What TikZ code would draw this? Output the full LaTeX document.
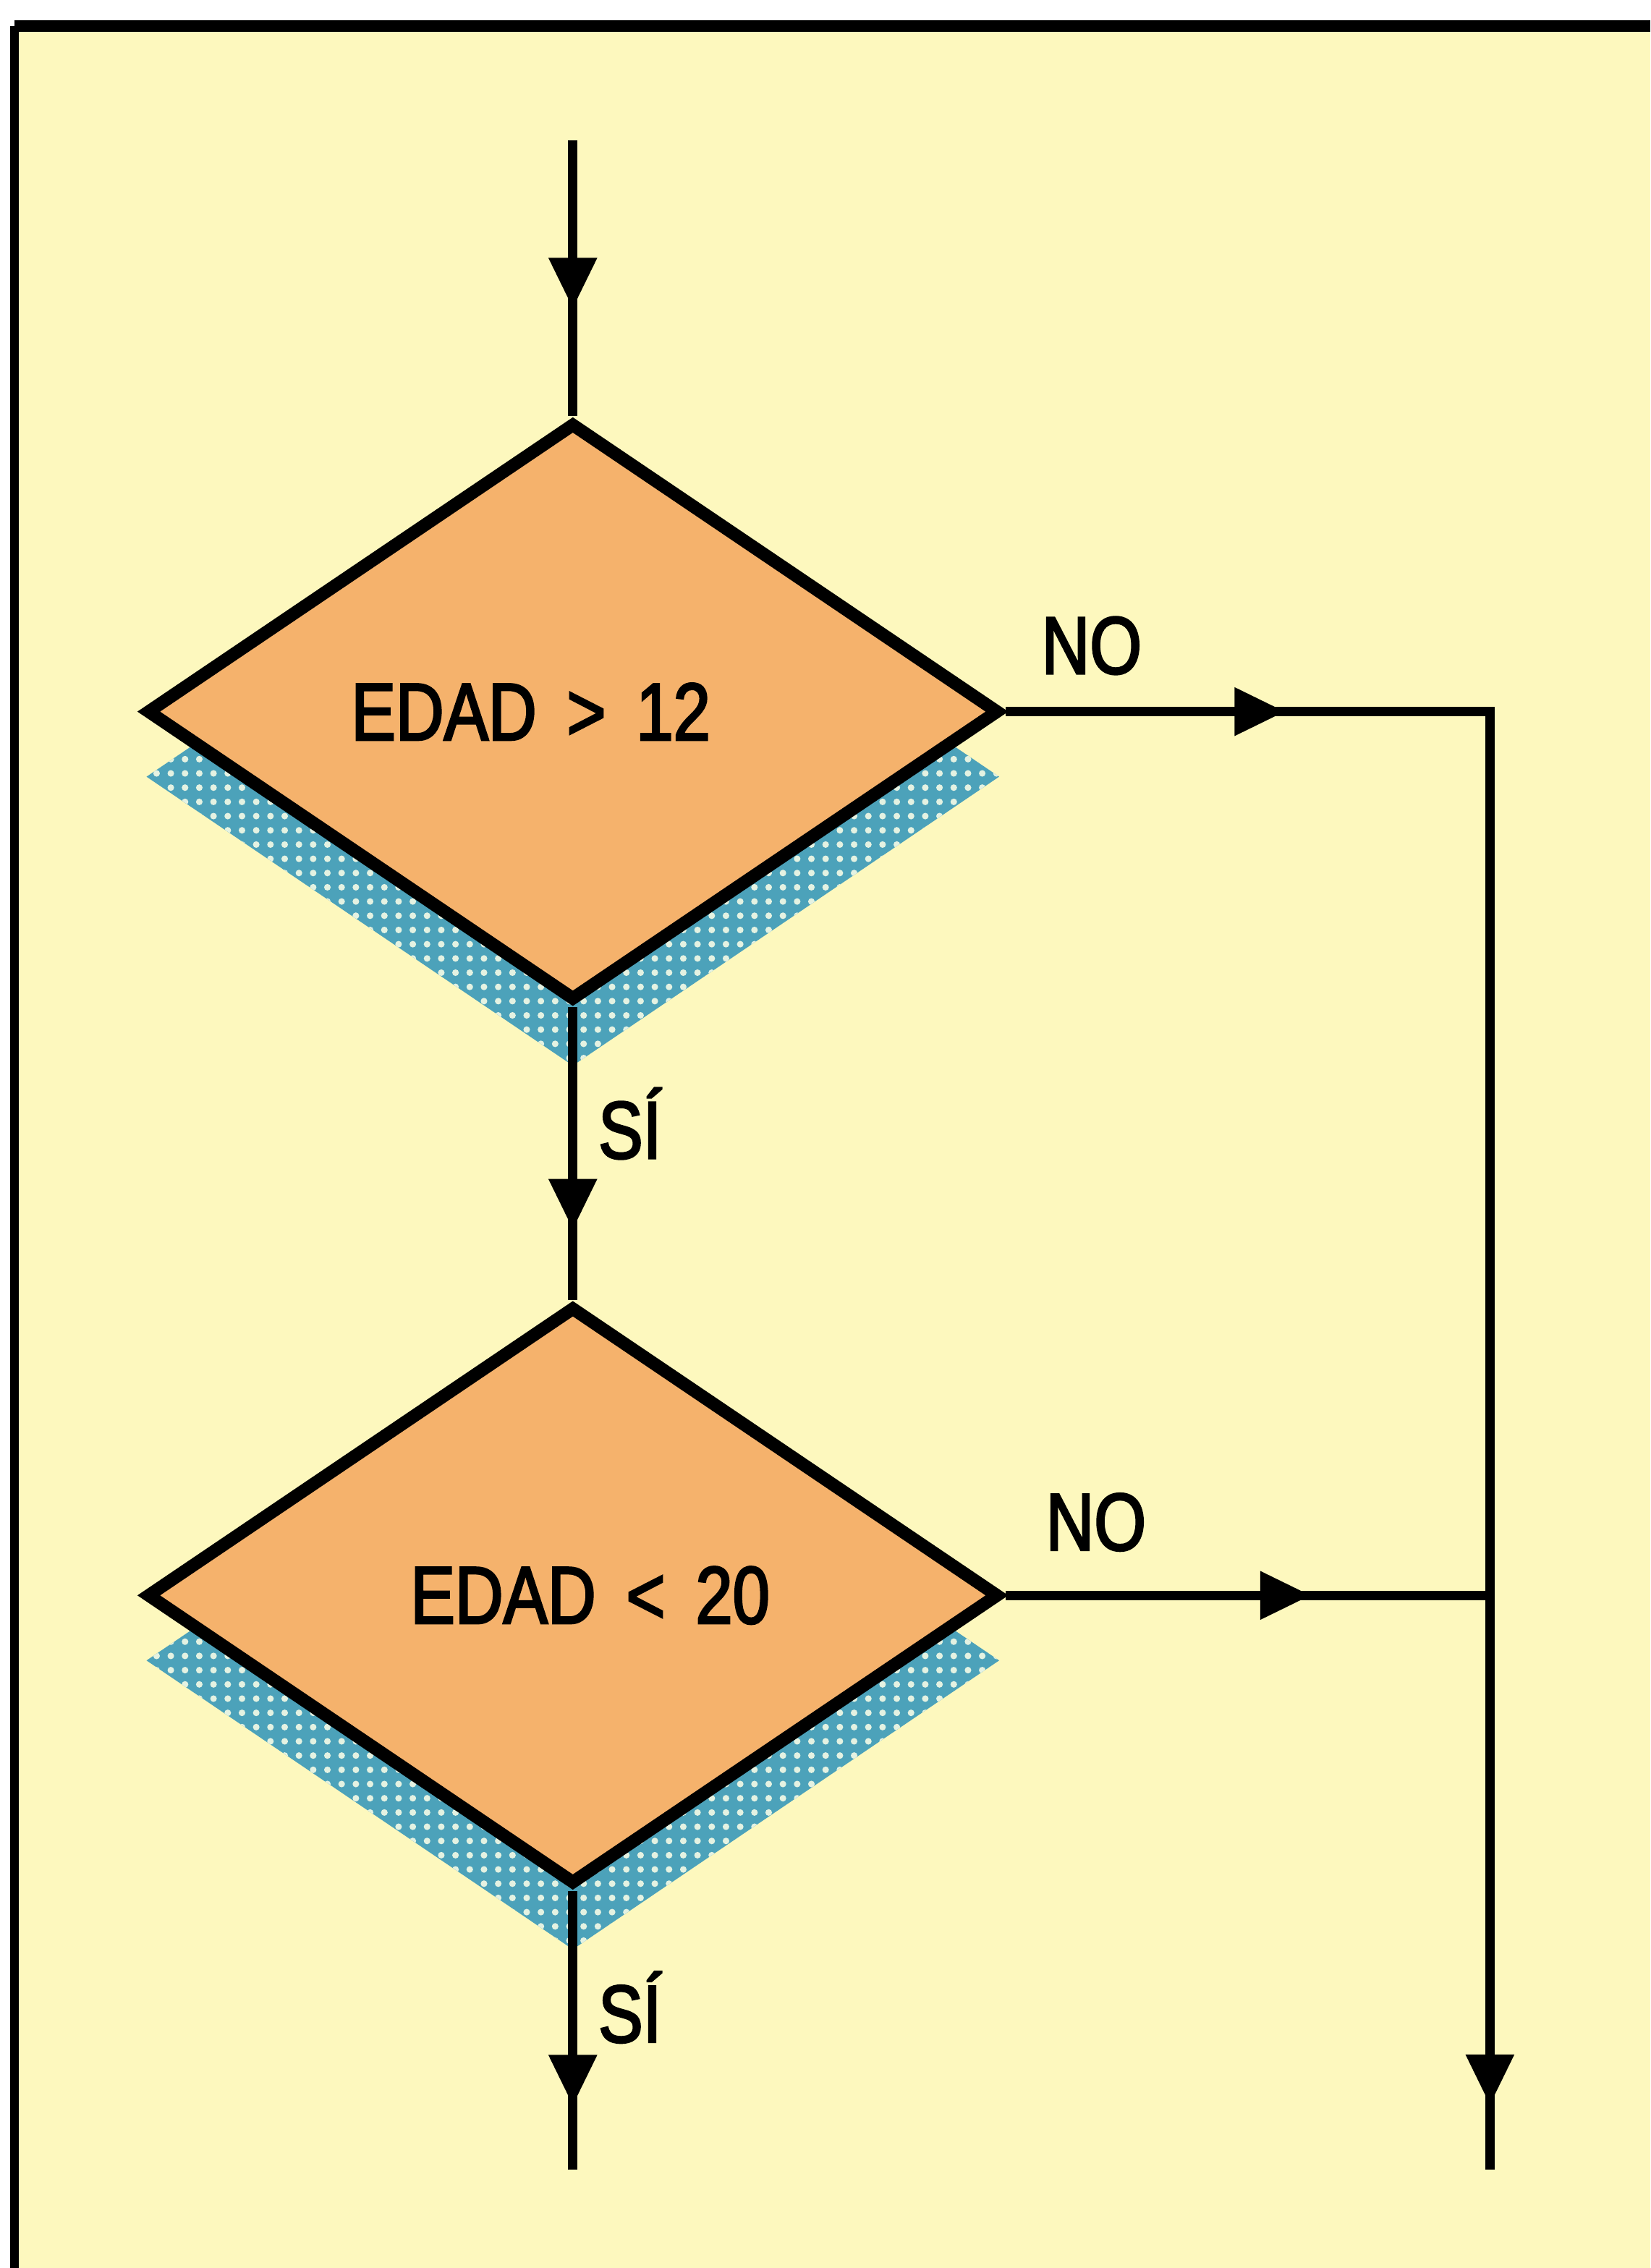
\documentclass[tikz,border=0pt]{standalone}
\usepackage{fontspec}
\newfontfamily\rotulo{Liberation Sans}[FakeStretch=0.82,FakeBold=2.5]
\usetikzlibrary{shapes.geometric,positioning,arrows.meta,decorations.markings,patterns.meta}
\definecolor{fondo}{HTML}{FDF8BE}
\definecolor{naranja}{HTML}{F5B26C}
\definecolor{azul}{HTML}{4CA2BA}
\definecolor{puntos}{HTML}{E4F2E2}
\tikzset{
  decision/.style={diamond, draw=black, line width=2.5pt, fill=naranja,
    minimum width=5.9cm, minimum height=4cm, inner sep=0pt,
    font=\rotulo\fontsize{16}{18}\selectfont},
  sombra/.style={diamond, minimum width=5.9cm, minimum height=4cm, inner sep=0pt,
    preaction={fill=azul}, pattern={Dots[distance=2.8pt, radius=0.65pt]},
    pattern color=puntos},
  flujo/.style={line width=1.8pt},
  flecha/.style={postaction={decorate, decoration={markings,
    mark=at position #1 with {\arrow{Triangle[length=3.5mm,width=3.2mm]}}}}},
  etiqueta/.style={inner sep=0pt, font=\rotulo\fontsize{16}{18}\selectfont}
}
\begin{document}
\begin{tikzpicture}
  \useasboundingbox (0,0) rectangle (11.41,15.68);
  % fondo y marco
  \fill[white] (0,0) rectangle (11.41,15.68);
  \fill[fondo] (0.10,0) rectangle (11.41,15.50);
  \draw[line width=1.6pt] (0.10,0) -- (0.10,15.50);
  \draw[line width=2.4pt] (0.10,15.50) -- (11.41,15.50);
  % puntos fijos
  \coordinate (c1) at (3.96,10.76);
  \coordinate (c2) at (3.96,4.65);
  \coordinate (ini) at (3.96,14.71);
  \coordinate (fin1) at (3.96,0.68);
  \coordinate (esq) at (10.30,10.76);
  \coordinate (union) at (10.30,4.65);
  \coordinate (fin2) at (10.30,0.68);
  % sombras
  \node[sombra, yshift=-0.45cm] (s1) at (c1) {};
  \node[sombra, yshift=-0.45cm] (s2) at (c2) {};
  % decisiones
  \node[decision] (d1) at (c1) {EDAD\hspace{0.21cm}>\hspace{0.21cm}12\hspace*{0.58cm}};
  \node[decision] (d2) at (c2) {\hspace*{0.24cm}EDAD\hspace{0.21cm}<\hspace{0.21cm}20};
  % conexiones
  \begin{scope}[flujo]
    \draw[flecha=0.61] (ini) -- (d1.north);
    \draw[flecha=0.76] (d1.south) -- (d2.north);
    \draw[flecha=1.93cm, flecha=12.98cm] (d1.east) -- (esq) -- (fin2);
    \draw[flecha=0.63] (d2.east) -- (union);
    \draw[flecha=0.77] (d2.south) -- (fin1);
  \end{scope}
  % etiquetas
  \node[etiqueta, above right=0.25cm and 0.24cm of d1.east] (no1) {NO};
  \node[etiqueta, above right=0.30cm and 0.27cm of d2.east] (no2) {NO};
  \node[etiqueta, below right=0.55cm and 0.17cm of d1.south] (si1) {SÍ};
  \node[etiqueta, below right=0.55cm and 0.17cm of d2.south] (si2) {SÍ};
\end{tikzpicture}
\end{document}
